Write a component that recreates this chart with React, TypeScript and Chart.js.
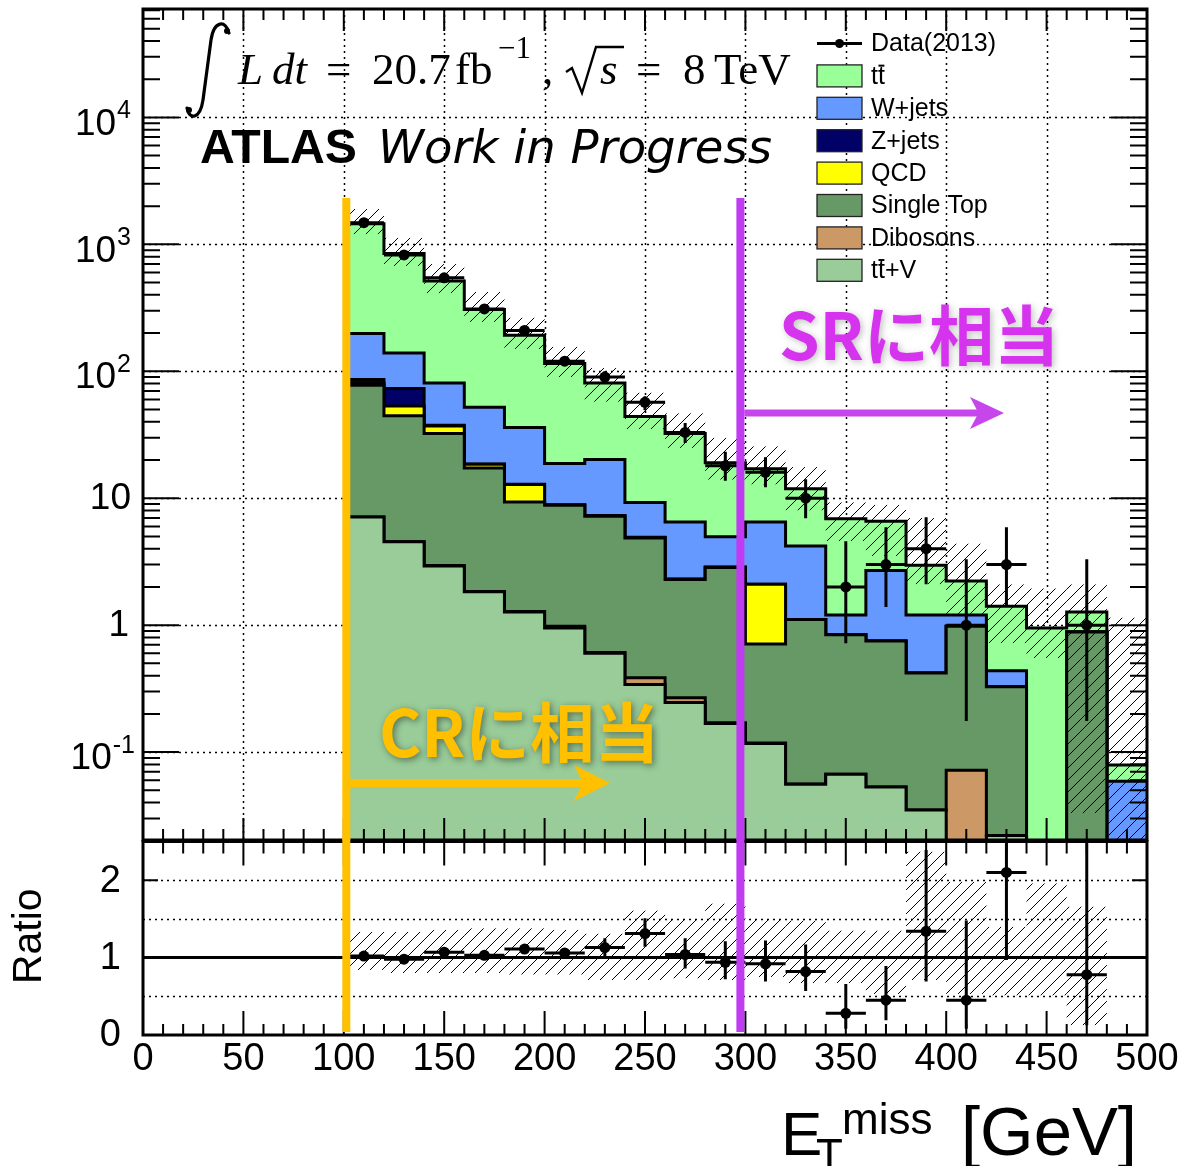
import React, { useEffect, useRef } from "react";
import { Chart, registerables } from "chart.js";
Chart.register(...registerables);

// ---------------- data ----------------
const BIN_LOW = [100, 120, 140, 160, 180, 200, 220, 240, 260, 280, 300, 320, 340, 360, 380, 400, 420, 440, 460, 480];
const BIN_WIDTH = 20;

// individual stack components (events per bin)
const TTBAR = [1258, 706, 433, 254, 156, 96.2, 60.8, 34.75, 25.8, 14.04, 10.6, 7.7, 5.7, 3.9, 1.77, 1.03, 0.973, 0.95, 0.385, 0.02];
const WJETS = [112, 66, 43.5, 33.4, 23.1, 9.9, 12.9, 4.33, 4.19, 2.09, 4.4, 3.09, 0.36, 1.95, 0.78, 0.22, 0.11, 0, 0, 0.059];
const ZJETS = [5, 19.7, 0.4, 0.1, 0.1, 0.05, 0.05, 0.02, 0.01, 0.01, 0, 0, 0, 0, 0, 0, 0, 0, 0, 0];
const QCD = [3.4, 8.8, 4.8, 1.2, 3.45, 0.05, 0.05, 0.03, 0.01, 0.01, 1.39, 0, 0, 0, 0, 0, 0, 0, 0, 0];
const SINGLETOP = [70.5, 40, 29.35, 15.46, 8.07, 7.82, 6.59, 4.485, 2.022, 2.68, 0.592, 1.054, 0.773, 0.697, 0.385, 0.908, 0.305, 0, 0.885, 0];
const DIBOSONS = [0, 0.02, 0.02, 0.01, 0.01, 0.03, 0.01, 0.044, 0.022, 0.002, 0.001, 0.0003, 0, 0, 0, 0.072, 0, 0, 0, 0];
const TTV = [7.1, 4.53, 2.93, 1.83, 1.27, 0.95, 0.6, 0.341, 0.246, 0.168, 0.117, 0.0557, 0.067, 0.053, 0.035, 0, 0.022, 0, 0, 0];

// data
const DATA = [1480, 825, 545, 310, 210, 120, 90, 57, 33, 18, 16, 10, 2, 3, 4, 1, 3, null, 1, null];
const DATA_LO = [1442, 796, 522, 293, 196, 110, 81, 49.3, 27.2, 13.7, 12.2, 6.96, 0.72, 1.39, 2.1, 0.176, 1.39, null, 0.176, null];
const DATA_HI = [1518, 854, 568, 327, 224, 131, 100, 63.6, 39.2, 23.2, 21.0, 14.1, 4.59, 5.9, 7.08, 3.31, 5.9, null, 3.31, null];

// MC uncertainty band, main panel
const BAND_LO = [1200, 676, 411, 245, 150, 90, 57.5, 35, 24.9, 14, 12.8, 8.0, 4.6, 3.5, 2.1, 1.18, 0.72, 0.55, 0.033, 0.0001];
const BAND_HI = [1900, 1128, 699, 422, 265, 156, 106, 68, 46.8, 30, 25.7, 17.6, 9.3, 8.9, 7.0, 4.4, 2.1, 1.95, 2.1, 1.15];

// ratio panel
const RATIO = [1.02, 0.98, 1.07, 1.03, 1.11, 1.06, 1.13, 1.31, 1.04, 0.94, 0.92, 0.82, 0.28, 0.45, 1.34, 0.45, 2.1, null, 0.78, null];
const RATIO_LO = [0.99, 0.95, 1.03, 0.99, 1.06, 1.01, 1.01, 1.14, 0.86, 0.72, 0.69, 0.57, 0.08, 0.19, 0.69, 0.08, 0.97, null, 0.125, null];
const RATIO_HI = [1.05, 1.01, 1.11, 1.07, 1.16, 1.11, 1.25, 1.51, 1.25, 1.21, 1.22, 1.17, 0.66, 0.89, 2.39, 1.48, 2.9, null, 2.9, null];
const RBAND_LO = [0.84, 0.8, 0.8, 0.8, 0.78, 0.78, 0.71, 0.71, 0.73, 0.71, 0.75, 0.67, 0.67, 0.53, 0.71, 0.53, 0.51, 0.51, 0.125, null];
const RBAND_HI = [1.335, 1.335, 1.36, 1.38, 1.38, 1.36, 1.31, 1.61, 1.5, 1.7, 1.5, 1.48, 1.35, 1.35, 2.37, 1.98, 1.4, 1.96, 1.66, null];

// axes
const X_MIN = 0;
const X_MAX = 500;
const Y_MIN = 0.0203;
const Y_MAX = 71450;
const R_MIN = 0;
const R_MAX = 2.5;
const X_TICK_LABELS = [0, 50, 100, 150, 200, 250, 300, 350, 400, 450, 500];
const Y_DECADES = [-1, 0, 1, 2, 3, 4];
const R_TICK_LABELS = [0, 1, 2];
const R_GRID = [0.5, 1.5, 2];

// legend (top to bottom)
const LEGEND_NAMES = ["tt\u0304", "W+jets", "Z+jets", "QCD", "Single Top", "Dibosons", "tt\u0304+V"];
const COLORS = {
  ttbar: "#99FF99",
  wjets: "#6699FF",
  zjets: "#000066",
  qcd: "#FFFF00",
  singletop: "#669966",
  dibosons: "#CC9966",
  ttv: "#99CC99",
};
const LEGEND_COLORS = [COLORS.ttbar, COLORS.wjets, COLORS.zjets, COLORS.qcd, COLORS.singletop, COLORS.dibosons, COLORS.ttv];

const SANS = "'Liberation Sans', Arial, Helvetica, sans-serif";
const SERIF = "'Liberation Serif', 'Times New Roman', serif";
const CJK = "'Noto Sans CJK JP', 'Noto Sans', sans-serif";

// ---------------- helpers ----------------
function hatchRect(ctx: CanvasRenderingContext2D, x0: number, x1: number, y0: number, y1: number, area: any) {
  const left = Math.max(x0, area.left);
  const right = Math.min(x1, area.right);
  const top = Math.max(Math.min(y0, y1), area.top);
  const bottom = Math.min(Math.max(y0, y1), area.bottom);
  if (right <= left || bottom <= top) return;
  const sp = 12;
  ctx.save();
  ctx.beginPath();
  ctx.rect(left, top, right - left, bottom - top);
  ctx.clip();
  ctx.beginPath();
  const cMin = left + top;
  const cMax = right + bottom;
  for (let c = Math.floor(cMin / sp) * sp; c <= cMax + sp; c += sp) {
    ctx.moveTo(c - bottom, bottom);
    ctx.lineTo(c - top, top);
  }
  ctx.strokeStyle = "#000";
  ctx.lineWidth = 1;
  ctx.stroke();
  ctx.restore();
}

function drawArrow(ctx: CanvasRenderingContext2D, x0: number, x1: number, y: number, thick: number, headLen: number, headHalf: number, color: string) {
  ctx.save();
  ctx.fillStyle = color;
  ctx.fillRect(x0, y - thick / 2, x1 - headLen * 0.7 - x0, thick);
  ctx.beginPath();
  ctx.moveTo(x1, y);
  ctx.lineTo(x1 - headLen, y - headHalf);
  ctx.lineTo(x1 - headLen * 0.75, y);
  ctx.lineTo(x1 - headLen, y + headHalf);
  ctx.closePath();
  ctx.fill();
  ctx.restore();
}

function fitText(ctx: CanvasRenderingContext2D, text: string, weight: string, family: string, target: number, base: number) {
  ctx.font = `${weight} ${base}px ${family}`;
  const w = ctx.measureText(text).width;
  const size = (base * target) / w;
  return `${weight} ${size.toFixed(2)}px ${family}`;
}

function drawTTbarLabel(ctx: CanvasRenderingContext2D, name: string, x: number, y: number, size: number) {
  ctx.font = `${size}px ${SANS}`;
  ctx.textBaseline = "middle";
  ctx.textAlign = "left";
  if (name.startsWith("tt\u0304")) {
    const wt = ctx.measureText("t").width;
    ctx.fillText("tt", x, y);
    ctx.save();
    ctx.strokeStyle = "#000";
    ctx.lineWidth = 2;
    ctx.beginPath();
    ctx.moveTo(x + wt + 0.5, y - size * 0.45);
    ctx.lineTo(x + 2 * wt - 0.5, y - size * 0.45);
    ctx.stroke();
    ctx.restore();
    const rest = name.slice(3);
    if (rest) ctx.fillText(rest, x + 2 * wt, y);
  } else {
    ctx.fillText(name, x, y);
  }
}

function cumulative(layers: number[][]) {
  const out: number[][] = [];
  let run = layers[0].map(() => 0);
  for (const l of layers) {
    run = run.map((v, i) => v + l[i]);
    out.push(run.slice());
  }
  return out;
}

function stepPoints(vals: number[]) {
  const pts = vals.map((v, i) => ({ x: BIN_LOW[i], y: Math.max(v, 1e-5) }));
  pts.push({ x: BIN_LOW[BIN_LOW.length - 1] + BIN_WIDTH, y: Math.max(vals[vals.length - 1], 1e-5) });
  return pts;
}

// ---------------- main panel plugin ----------------
const mainPlugin = {
  id: "mainDeco",
  beforeDatasetsDraw(chart: any) {
    const { ctx, chartArea: a, scales } = chart;
    const x = scales.x;
    const y = scales.y;
    ctx.save();
    ctx.fillStyle = "#fff";
    ctx.fillRect(a.left, a.top, a.right - a.left, a.bottom - a.top);
    ctx.strokeStyle = "#000";
    ctx.lineWidth = 1.5;
    ctx.setLineDash([2, 4]);
    for (let g = 50; g < X_MAX; g += 50) {
      const px = Math.round(x.getPixelForValue(g)) + 0.5;
      ctx.beginPath();
      ctx.moveTo(px, a.top);
      ctx.lineTo(px, a.bottom);
      ctx.stroke();
    }
    for (const e of Y_DECADES) {
      const py = Math.round(y.getPixelForValue(Math.pow(10, e))) + 0.5;
      ctx.beginPath();
      ctx.moveTo(a.left, py);
      ctx.lineTo(a.right, py);
      ctx.stroke();
    }
    ctx.restore();
  },
  beforeDatasetDraw(chart: any, args: any) {
    if (args.index !== 0) return;
    const { ctx, chartArea: a, scales } = chart;
    const x = scales.x;
    const y = scales.y;
    for (let i = 0; i < BIN_LOW.length; i++) {
      hatchRect(
        ctx,
        x.getPixelForValue(BIN_LOW[i]),
        x.getPixelForValue(BIN_LOW[i] + BIN_WIDTH),
        y.getPixelForValue(BAND_HI[i]),
        y.getPixelForValue(BAND_LO[i]),
        a
      );
    }
    ctx.save();
    ctx.beginPath();
    ctx.rect(a.left, a.top, a.right - a.left, a.bottom - a.top);
    ctx.clip();
    ctx.strokeStyle = "#000";
    ctx.lineWidth = 3;
    for (let i = 0; i < BIN_LOW.length; i++) {
      const d = DATA[i];
      if (d == null) continue;
      const cx = x.getPixelForValue(BIN_LOW[i] + BIN_WIDTH / 2);
      const py = y.getPixelForValue(d);
      ctx.beginPath();
      ctx.moveTo(x.getPixelForValue(BIN_LOW[i]), py);
      ctx.lineTo(x.getPixelForValue(BIN_LOW[i] + BIN_WIDTH), py);
      ctx.moveTo(cx, y.getPixelForValue(DATA_HI[i] as number));
      ctx.lineTo(cx, y.getPixelForValue(DATA_LO[i] as number));
      ctx.stroke();
    }
    ctx.restore();
  },
  afterDatasetsDraw(chart: any) {
    const { ctx, chartArea: a, scales } = chart;
    const x = scales.x;
    const y = scales.y;
    ctx.save();
    ctx.strokeStyle = "#000";
    ctx.lineWidth = 2;
    ctx.beginPath();
    for (let g = X_MIN; g <= X_MAX; g += 10) {
      const px = x.getPixelForValue(g);
      const len = g % 50 === 0 ? 22 : 11;
      ctx.moveTo(px, a.bottom);
      ctx.lineTo(px, a.bottom - len);
      ctx.moveTo(px, a.top);
      ctx.lineTo(px, a.top + len);
    }
    for (let e = -2; e <= 4; e++) {
      for (let m = 1; m <= 9; m++) {
        const v = m * Math.pow(10, e);
        if (v < Y_MIN || v > Y_MAX) continue;
        const py = y.getPixelForValue(v);
        const len = m === 1 ? 36 : 17;
        ctx.moveTo(a.left, py);
        ctx.lineTo(a.left + len, py);
        ctx.moveTo(a.right, py);
        ctx.lineTo(a.right - len, py);
      }
    }
    ctx.stroke();
    ctx.lineWidth = 3;
    ctx.strokeRect(a.left, a.top, a.right - a.left, a.bottom - a.top);
    ctx.restore();
  },
  afterDraw(chart: any) {
    const { ctx, chartArea: a, scales } = chart;
    const x = scales.x;
    const y = scales.y;
    ctx.save();
    ctx.fillStyle = "#000";
    // y labels
    const baseSize = 37;
    const supSize = 25;
    for (const e of Y_DECADES) {
      const py = y.getPixelForValue(Math.pow(10, e));
      ctx.textAlign = "right";
      ctx.textBaseline = "middle";
      if (e === 0) {
        ctx.font = `${baseSize}px ${SANS}`;
        ctx.fillText("1", 129, py + 1);
      } else if (e === 1) {
        ctx.font = `${baseSize}px ${SANS}`;
        ctx.fillText("10", 131, py + 1);
      } else {
        const sup = e < 0 ? "-" + Math.abs(e) : String(e);
        ctx.font = `${supSize}px ${SANS}`;
        const sw = ctx.measureText(sup).width;
        const right = e < 0 ? 135 : 131;
        ctx.fillText(sup, right, py - 6);
        ctx.font = `${baseSize}px ${SANS}`;
        ctx.fillText("10", right - sw - 1, py + 7);
      }
    }

    // legend
    const lx0 = 817;
    const lx1 = 862;
    const rowY = (i: number) => 43.5 + 32.4 * i;
    ctx.strokeStyle = "#000";
    ctx.lineWidth = 3;
    ctx.beginPath();
    ctx.moveTo(lx0, rowY(0));
    ctx.lineTo(lx1, rowY(0));
    ctx.stroke();
    ctx.beginPath();
    ctx.arc((lx0 + lx1) / 2, rowY(0), 4.5, 0, Math.PI * 2);
    ctx.fill();
    ctx.font = `25px ${SANS}`;
    ctx.textAlign = "left";
    ctx.textBaseline = "middle";
    ctx.fillText("Data(2013)", 871, rowY(0) + 1);
    for (let i = 0; i < LEGEND_NAMES.length; i++) {
      const cy = rowY(i + 1);
      ctx.fillStyle = LEGEND_COLORS[i];
      ctx.fillRect(lx0, cy - 11, lx1 - lx0, 22);
      ctx.strokeStyle = "#222";
      ctx.lineWidth = 1.3;
      ctx.strokeRect(lx0, cy - 11, lx1 - lx0, 22);
      ctx.fillStyle = "#000";
      drawTTbarLabel(ctx, LEGEND_NAMES[i], 871, cy + 1, 25);
    }

    // luminosity formula
    ctx.strokeStyle = "#000";
    ctx.lineWidth = 3.2;
    ctx.lineCap = "round";
    ctx.beginPath();
    ctx.moveTo(229, 33);
    ctx.bezierCurveTo(226, 20, 214, 20, 211, 40);
    ctx.lineTo(203, 100);
    ctx.bezierCurveTo(200, 120, 189, 120, 187, 108);
    ctx.stroke();
    ctx.beginPath();
    ctx.arc(227, 31, 3, 0, Math.PI * 2);
    ctx.arc(189, 110, 3, 0, Math.PI * 2);
    ctx.fill();
    const fs = 45;
    const bl = 84;
    ctx.textAlign = "left";
    ctx.textBaseline = "alphabetic";
    ctx.font = `italic ${fs}px ${SERIF}`;
    ctx.fillText("L", 238, bl);
    ctx.fillText("dt", 272, bl);
    ctx.font = `${fs}px ${SERIF}`;
    ctx.fillText("=", 326, bl);
    ctx.fillText("20.7", 372, bl);
    ctx.fillText("fb", 455, bl);
    ctx.font = `${Math.round(fs * 0.7)}px ${SERIF}`;
    ctx.fillText("\u22121", 498, bl - 26);
    ctx.font = `${fs}px ${SERIF}`;
    ctx.fillText(",", 542, bl);
    ctx.lineWidth = 2.4;
    ctx.lineCap = "butt";
    ctx.beginPath();
    ctx.moveTo(566, 72);
    ctx.lineTo(572, 68);
    ctx.lineTo(582, 93);
    ctx.lineTo(596, 47);
    ctx.lineTo(624, 47);
    ctx.stroke();
    ctx.font = `italic ${fs}px ${SERIF}`;
    ctx.fillText("s", 600, bl);
    ctx.font = `${fs}px ${SERIF}`;
    ctx.fillText("=", 636, bl);
    ctx.fillText("8", 683, bl);
    ctx.fillText("TeV", 714, bl);

    // ATLAS label
    ctx.font = fitText(ctx, "ATLAS", "bold", SANS, 157, 46);
    ctx.fillText("ATLAS", 200, 163);
    ctx.font = fitText(ctx, "Work in Progress", "italic", "'DejaVu Sans', sans-serif", 394, 42);
    ctx.fillText("Work in Progress", 378, 163);

    // CR / SR annotations
    const xCR = x.getPixelForValue(100) + 2.5;
    const xSR = x.getPixelForValue(300) - 5;
    ctx.fillStyle = "#FFC000";
    ctx.fillRect(xCR - 4, 198, 8, a.bottom + 5 - 198);
    ctx.fillStyle = "#C03CF2";
    ctx.fillRect(xSR - 4, 198, 8, a.bottom + 5 - 198);
    drawArrow(ctx, x.getPixelForValue(100), 610, 783, 8, 36, 18, "#FFC000");
    drawArrow(ctx, xSR + 4, 1004, 413, 7, 34, 16, "#C746EC");

    ctx.textAlign = "left";
    ctx.textBaseline = "middle";
    ctx.save();
    ctx.shadowColor = "rgba(0,0,0,0.45)";
    ctx.shadowBlur = 7;
    ctx.shadowOffsetX = 2;
    ctx.shadowOffsetY = 2;
    ctx.fillStyle = "#FFC000";
    ctx.font = fitText(ctx, "CRに相当", "bold", CJK, 280, 62);
    ctx.fillText("CRに相当", 379, 732);
    ctx.shadowColor = "rgba(0,0,0,0.25)";
    ctx.fillStyle = "#D633EE";
    ctx.font = fitText(ctx, "SRに相当", "bold", CJK, 280, 62);
    ctx.fillText("SRに相当", 779, 335);
    ctx.restore();
    ctx.restore();
  },
};

// ---------------- ratio panel plugin ----------------
const ratioPlugin = {
  id: "ratioDeco",
  beforeDatasetsDraw(chart: any) {
    const { ctx, chartArea: a, scales } = chart;
    const y = scales.y;
    ctx.save();
    ctx.fillStyle = "#fff";
    ctx.fillRect(a.left, a.top, a.right - a.left, a.bottom - a.top);
    ctx.strokeStyle = "#000";
    ctx.lineWidth = 1.5;
    ctx.setLineDash([2, 4]);
    for (const g of R_GRID) {
      const py = Math.round(y.getPixelForValue(g)) + 0.5;
      ctx.beginPath();
      ctx.moveTo(a.left, py);
      ctx.lineTo(a.right, py);
      ctx.stroke();
    }
    ctx.restore();
  },
  beforeDatasetDraw(chart: any, args: any) {
    if (args.index !== 0) return;
    const { ctx, chartArea: a, scales } = chart;
    const x = scales.x;
    const y = scales.y;
    for (let i = 0; i < BIN_LOW.length; i++) {
      if (RBAND_LO[i] == null) continue;
      hatchRect(
        ctx,
        x.getPixelForValue(BIN_LOW[i]),
        x.getPixelForValue(BIN_LOW[i] + BIN_WIDTH),
        y.getPixelForValue(RBAND_HI[i] as number),
        y.getPixelForValue(RBAND_LO[i] as number),
        a
      );
    }
    ctx.save();
    ctx.beginPath();
    ctx.rect(a.left, a.top, a.right - a.left, a.bottom - a.top);
    ctx.clip();
    ctx.strokeStyle = "#000";
    ctx.lineWidth = 3;
    const p1 = y.getPixelForValue(1);
    ctx.beginPath();
    ctx.moveTo(a.left, p1);
    ctx.lineTo(a.right, p1);
    ctx.stroke();
    for (let i = 0; i < BIN_LOW.length; i++) {
      const r = RATIO[i];
      if (r == null) continue;
      const cx = x.getPixelForValue(BIN_LOW[i] + BIN_WIDTH / 2);
      const py = y.getPixelForValue(r);
      ctx.beginPath();
      ctx.moveTo(x.getPixelForValue(BIN_LOW[i]), py);
      ctx.lineTo(x.getPixelForValue(BIN_LOW[i] + BIN_WIDTH), py);
      ctx.moveTo(cx, y.getPixelForValue(RATIO_HI[i] as number));
      ctx.lineTo(cx, y.getPixelForValue(RATIO_LO[i] as number));
      ctx.stroke();
    }
    ctx.restore();
  },
  afterDatasetsDraw(chart: any) {
    const { ctx, chartArea: a, scales } = chart;
    const x = scales.x;
    const y = scales.y;
    ctx.save();
    ctx.strokeStyle = "#000";
    ctx.lineWidth = 2;
    ctx.beginPath();
    for (let g = X_MIN; g <= X_MAX; g += 10) {
      const px = x.getPixelForValue(g);
      const major = g % 50 === 0;
      ctx.moveTo(px, a.bottom);
      ctx.lineTo(px, a.bottom - (major ? 24 : 11));
      ctx.moveTo(px, a.top);
      ctx.lineTo(px, a.top + (major ? 24 : 12));
    }
    for (const t of [1, 2]) {
      const py = y.getPixelForValue(t);
      ctx.moveTo(a.left, py);
      ctx.lineTo(a.left + 15, py);
      ctx.moveTo(a.right, py);
      ctx.lineTo(a.right - 15, py);
    }
    ctx.stroke();
    ctx.lineWidth = 3;
    ctx.strokeRect(a.left, a.top, a.right - a.left, a.bottom - a.top);
    ctx.restore();
  },
  afterDraw(chart: any) {
    const { ctx, chartArea: a, scales } = chart;
    const x = scales.x;
    const y = scales.y;
    ctx.save();
    ctx.fillStyle = "#000";
    ctx.font = `38px ${SANS}`;
    ctx.textAlign = "center";
    ctx.textBaseline = "middle";
    for (const t of X_TICK_LABELS) {
      ctx.fillText(String(t), x.getPixelForValue(t), a.bottom + 25);
    }
    ctx.textAlign = "right";
    for (const t of R_TICK_LABELS) {
      ctx.fillText(String(t), 121, y.getPixelForValue(t) + 1);
    }
    ctx.save();
    ctx.translate(30, (a.top + a.bottom) / 2 - 2);
    ctx.rotate(-Math.PI / 2);
    ctx.textAlign = "center";
    ctx.font = `41px ${SANS}`;
    ctx.fillText("Ratio", 0, 0);
    ctx.restore();

    // axis title
    ctx.textAlign = "left";
    ctx.textBaseline = "alphabetic";
    const top0 = 836;
    ctx.font = `62px ${SANS}`;
    ctx.fillText("E", 781, 1155 - top0);
    ctx.font = `44px ${SANS}`;
    ctx.fillText("T", 816, 1170 - top0);
    ctx.fillText("miss", 842, 1134 - top0);
    ctx.font = fitText(ctx, "[GeV]", "normal", SANS, 176, 66);
    ctx.fillText("[GeV]", 961, 1155 - top0);

    // CR / SR lines continue through the ratio panel
    const xCR = x.getPixelForValue(100) + 2.5;
    const xSR = x.getPixelForValue(300) - 5;
    ctx.fillStyle = "#FFC000";
    ctx.fillRect(xCR - 4, a.top - 4, 8, 1032 - top0 - (a.top - 4));
    ctx.fillStyle = "#C03CF2";
    ctx.fillRect(xSR - 4, a.top - 4, 8, 1032 - top0 - (a.top - 4));
    ctx.restore();
  },
};

export default function App() {
  const mainRef = useRef<HTMLCanvasElement>(null);
  const ratioRef = useRef<HTMLCanvasElement>(null);

  useEffect(() => {
    const layers = [TTV, DIBOSONS, SINGLETOP, QCD, ZJETS, WJETS, TTBAR];
    const layerColors = [COLORS.ttv, COLORS.dibosons, COLORS.singletop, COLORS.qcd, COLORS.zjets, COLORS.wjets, COLORS.ttbar];
    const cum = cumulative(layers);
    const stackSets = cum.map((vals, k) => ({
      type: "line" as const,
      label: "stack" + k,
      data: stepPoints(vals),
      stepped: "before" as const,
      fill: "start" as const,
      backgroundColor: layerColors[k],
      borderColor: "#000",
      borderWidth: 3,
      pointRadius: 0,
      tension: 0,
    }));
    const dataSet = {
      type: "line" as const,
      label: "Data(2013)",
      data: DATA.map((d, i) => ({ x: BIN_LOW[i] + BIN_WIDTH / 2, y: d })),
      showLine: false,
      pointRadius: 5.5,
      pointBackgroundColor: "#000",
      pointBorderWidth: 0,
      borderColor: "#000",
    };

    const main = new Chart(mainRef.current as HTMLCanvasElement, {
      type: "line",
      data: { datasets: [dataSet, ...stackSets] as any },
      options: {
        animation: false,
        responsive: false,
        maintainAspectRatio: false,
        events: [],
        layout: { padding: { left: 143, right: 37, top: 9, bottom: 10 } },
        scales: {
          x: { type: "linear", min: X_MIN, max: X_MAX, display: false },
          y: { type: "logarithmic", min: Y_MIN, max: Y_MAX, display: false },
        },
        plugins: { legend: { display: false }, tooltip: { enabled: false } },
      },
      plugins: [mainPlugin],
    });

    const ratio = new Chart(ratioRef.current as HTMLCanvasElement, {
      type: "line",
      data: {
        datasets: [
          {
            label: "ratio",
            data: RATIO.map((r, i) => ({ x: BIN_LOW[i] + BIN_WIDTH / 2, y: r })) as any,
            showLine: false,
            pointRadius: 5.5,
            pointBackgroundColor: "#000",
            pointBorderWidth: 0,
            borderColor: "#000",
          },
        ],
      },
      options: {
        animation: false,
        responsive: false,
        maintainAspectRatio: false,
        events: [],
        layout: { padding: { left: 143, right: 37, top: 4, bottom: 131 } },
        scales: {
          x: { type: "linear", min: X_MIN, max: X_MAX, display: false },
          y: { type: "linear", min: R_MIN, max: R_MAX, display: false },
        },
        plugins: { legend: { display: false }, tooltip: { enabled: false } },
      },
      plugins: [ratioPlugin],
    });

    return () => {
      main.destroy();
      ratio.destroy();
    };
  }, []);

  return (
    <div style={{ position: "absolute", left: 0, top: 0, width: 1184, height: 1166, background: "#fff", overflow: "hidden" }}>
      <canvas ref={mainRef} width={1184} height={850} style={{ position: "absolute", left: 0, top: 0, width: 1184, height: 850 }} />
      <canvas ref={ratioRef} width={1184} height={330} style={{ position: "absolute", left: 0, top: 836, width: 1184, height: 330 }} />
    </div>
  );
}
